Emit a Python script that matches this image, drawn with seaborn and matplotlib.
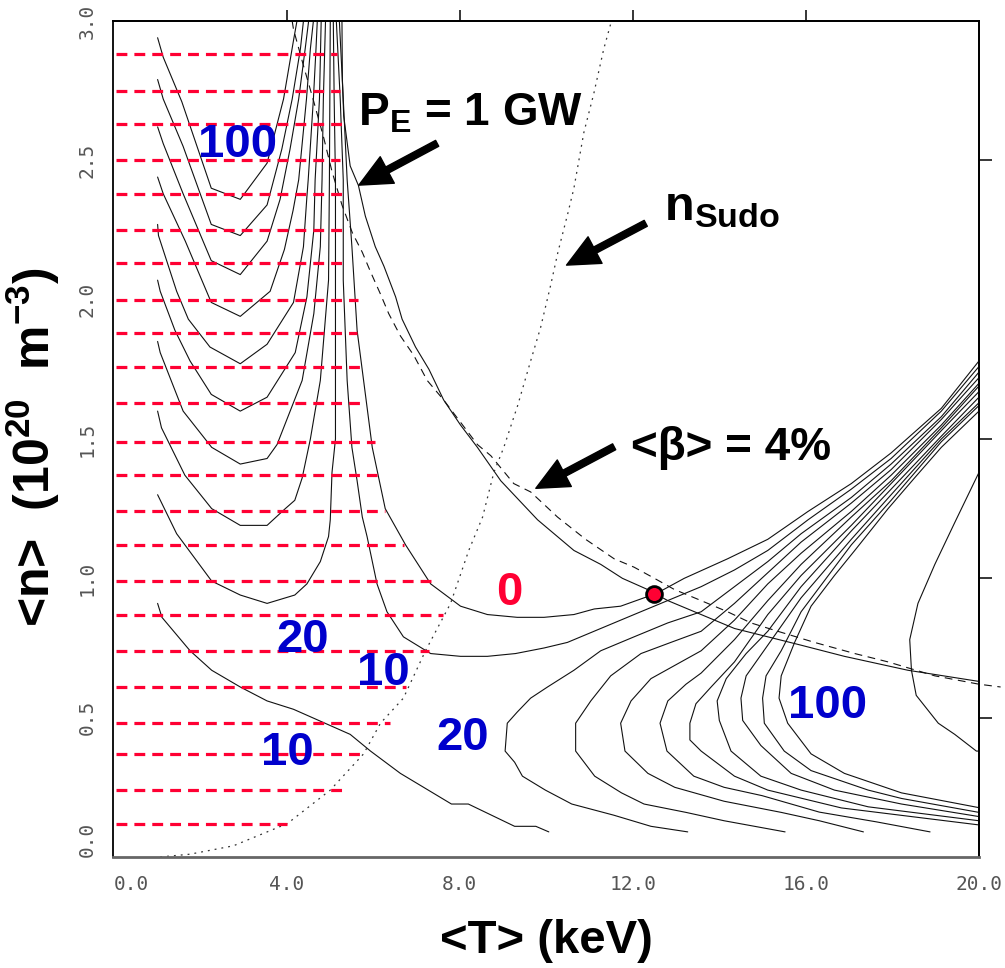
import numpy as np
import pandas as pd
import matplotlib
matplotlib.use("Agg")
import matplotlib.pyplot as plt
import seaborn as sns
from matplotlib.patches import FancyArrowPatch

# ---------------- data (T in keV, n in 1e20 m^-3) ----------------
# left family of contours (U shaped)
U1_T = [1.02, 1.15, 1.58, 2.26, 2.93, 3.55, 3.93, 4.16, 4.24]
U1_n = [2.94, 2.87, 2.71, 2.40, 2.36, 2.49, 2.72, 2.93, 3.00]
U2_T = [1.02, 1.15, 1.61, 2.26, 2.93, 3.55, 3.89, 4.13, 4.32, 4.39]
U2_n = [2.79, 2.72, 2.55, 2.27, 2.23, 2.34, 2.54, 2.72, 2.90, 3.00]
U3_T = [1.02, 1.15, 1.61, 2.26, 2.93, 3.55, 3.85, 4.08, 4.28, 4.43, 4.51]
U3_n = [2.62, 2.56, 2.38, 2.14, 2.09, 2.21, 2.36, 2.54, 2.72, 2.90, 3.00]
U4_T = [1.02, 1.15, 1.66, 2.26, 2.93, 3.62, 3.95, 4.15, 4.28, 4.46, 4.55, 4.62]
U4_n = [2.44, 2.38, 2.21, 1.99, 1.94, 2.03, 2.18, 2.32, 2.43, 2.72, 2.90, 3.00]
U5_T = [1.02, 1.04, 1.46, 1.73, 2.23, 2.93, 3.55, 4.16, 4.39, 4.47, 4.50, 4.62, 4.68, 4.71]
U5_n = [2.27, 2.23, 2.03, 1.93, 1.83, 1.77, 1.84, 1.99, 2.19, 2.37, 2.43, 2.72, 2.90, 3.00]
U6_T = [1.02, 1.08, 1.42, 1.77, 2.26, 2.93, 3.55, 4.20, 4.47, 4.63, 4.66, 4.76, 4.80]
U6_n = [2.07, 2.03, 1.89, 1.78, 1.66, 1.60, 1.65, 1.81, 2.01, 2.25, 2.43, 2.72, 3.00]
U7_T = [1.02, 1.08, 1.61, 2.27, 2.93, 3.55, 3.78, 4.36, 4.63, 4.78, 4.82, 4.85, 4.90]
U7_n = [1.85, 1.81, 1.60, 1.47, 1.41, 1.43, 1.48, 1.71, 1.95, 2.19, 2.43, 2.72, 3.00]
U8_T = [1.02, 1.11, 1.65, 2.27, 2.93, 3.55, 3.97, 4.19, 4.36, 4.55, 4.78, 4.97, 4.99, 5.00, 5.01]
U8_n = [1.60, 1.54, 1.37, 1.25, 1.19, 1.19, 1.25, 1.28, 1.36, 1.50, 1.71, 2.07, 2.43, 2.72, 3.00]
U9_T = [1.02, 1.46, 2.27, 2.93, 3.55, 4.19, 4.47, 4.78, 4.97, 5.01, 5.05, 5.13, 5.13, 5.13, 5.10, 5.08]
U9_n = [1.30, 1.16, 0.99, 0.94, 0.91, 0.94, 0.98, 1.06, 1.15, 1.21, 1.38, 1.50, 1.71, 2.43, 2.72, 3.00]
L10_T = [1.02, 1.12, 1.77, 2.27, 2.93, 3.55, 4.16, 5.47, 5.94, 6.63, 7.81, 8.20, 9.27, 9.76, 10.06]
L10_n = [0.91, 0.86, 0.74, 0.67, 0.61, 0.56, 0.53, 0.44, 0.38, 0.30, 0.19, 0.19, 0.11, 0.11, 0.09]

# "0" contour and the one just below it
Z0_T = [5.22, 5.31, 5.40, 5.51, 5.63, 5.78, 5.98, 6.28, 6.75, 7.33, 8.02, 8.64, 9.33, 9.95,
        10.64, 11.11, 11.72, 12.26, 12.48, 13.19, 14.19, 15.12, 16.05, 17.05, 17.97, 19.13, 20.0]
Z0_n = [3.00, 2.72, 2.43, 2.19, 1.89, 1.71, 1.47, 1.25, 1.12, 0.98, 0.90, 0.87, 0.86, 0.86,
        0.87, 0.89, 0.90, 0.93, 0.94, 1.00, 1.07, 1.14, 1.24, 1.34, 1.45, 1.61, 1.78]
B0_T = [5.15, 5.24, 5.31, 5.31, 5.40, 5.51, 5.63, 5.75, 5.86, 6.09, 6.32, 6.70, 7.33, 8.02, 8.64,
        9.29, 9.95, 10.49, 11.26, 12.03, 12.65, 13.58, 14.35, 15.12, 16.05, 17.05, 17.97, 19.13, 20.0]
B0_n = [3.00, 2.72, 2.43, 2.07, 1.71, 1.47, 1.35, 1.22, 1.15, 0.98, 0.88, 0.79, 0.73, 0.72, 0.72,
        0.73, 0.75, 0.77, 0.82, 0.87, 0.91, 0.97, 1.03, 1.10, 1.21, 1.32, 1.43, 1.60, 1.76]

# right family (C shaped)
C1_T = [13.27, 12.42, 11.56, 10.59, 9.98, 9.45, 9.27, 9.05, 9.10, 9.33, 9.64, 10.03, 10.64, 11.26,
        12.03, 12.81, 13.58, 14.35, 15.12, 15.89, 17.05, 17.97, 19.13, 20.0]
C1_n = [0.09, 0.11, 0.15, 0.19, 0.24, 0.29, 0.34, 0.38, 0.48, 0.52, 0.57, 0.61, 0.67, 0.74,
        0.79, 0.84, 0.88, 0.97, 1.06, 1.16, 1.29, 1.41, 1.58, 1.74]
C2_T = [15.52, 14.11, 13.23, 12.26, 11.74, 11.12, 10.68, 10.68, 11.03, 11.49, 12.19, 12.88, 13.58,
        14.35, 15.12, 15.89, 17.05, 17.97, 19.13, 20.0]
C2_n = [0.09, 0.13, 0.16, 0.19, 0.23, 0.29, 0.38, 0.48, 0.56, 0.65, 0.73, 0.77, 0.81,
        0.91, 1.02, 1.13, 1.27, 1.39, 1.57, 1.72]
C3_T = [17.33, 16.31, 15.43, 14.11, 12.97, 12.35, 11.82, 11.72, 11.96, 12.42, 13.00, 13.58, 14.35,
        15.12, 15.89, 17.05, 17.97, 19.13, 20.0]
C3_n = [0.09, 0.13, 0.16, 0.20, 0.25, 0.30, 0.38, 0.48, 0.56, 0.64, 0.69, 0.74, 0.85,
        0.98, 1.09, 1.24, 1.37, 1.55, 1.70]
C4_T = [18.87, 17.63, 16.31, 14.99, 14.11, 13.41, 12.79, 12.63, 12.81, 13.23, 13.58, 14.35, 15.12,
        15.89, 17.05, 17.97, 19.13, 20.0]
C4_n = [0.09, 0.126, 0.161, 0.22, 0.25, 0.29, 0.38, 0.48, 0.56, 0.62, 0.66, 0.78, 0.92,
        1.05, 1.22, 1.35, 1.54, 1.69]
C5_T = [20.0, 16.82, 15.12, 14.35, 13.58, 13.32, 13.32, 13.46, 13.81, 14.35, 15.12, 15.89, 17.05,
        17.97, 19.13, 20.0]
C5_n = [0.115, 0.176, 0.24, 0.29, 0.38, 0.42, 0.48, 0.55, 0.61, 0.70, 0.87, 1.01, 1.19,
        1.34, 1.53, 1.67]
C6_T = [20.0, 17.44, 15.89, 14.96, 14.27, 14.00, 13.95, 14.16, 14.62, 15.12, 15.89, 17.05, 17.97,
        19.13, 20.0]
C6_n = [0.13, 0.18, 0.24, 0.29, 0.38, 0.49, 0.56, 0.64, 0.73, 0.81, 0.97, 1.17, 1.32,
        1.51, 1.65]
C7_T = [20.0, 18.21, 16.66, 15.66, 14.96, 14.54, 14.50, 14.62, 15.12, 15.89, 17.05, 17.97, 19.13, 20.0]
C7_n = [0.145, 0.19, 0.24, 0.30, 0.40, 0.49, 0.57, 0.65, 0.76, 0.93, 1.14, 1.30, 1.50, 1.63]
C8_T = [20.0, 18.21, 17.44, 16.12, 15.50, 15.04, 15.00, 15.08, 15.43, 15.89, 17.05, 17.97, 19.13, 20.0]
C8_n = [0.16, 0.21, 0.24, 0.31, 0.38, 0.48, 0.57, 0.65, 0.74, 0.88, 1.12, 1.28, 1.49, 1.62]
C9_T = [20.0, 18.21, 16.89, 16.12, 15.58, 15.38, 15.43, 15.74, 16.12, 16.66, 17.13, 17.90, 18.51,
        19.13, 20.0]
C9_n = [0.177, 0.23, 0.30, 0.37, 0.48, 0.57, 0.65, 0.77, 0.90, 1.01, 1.10, 1.25, 1.36,
        1.47, 1.60]
C10_T = [20.0, 19.44, 18.98, 18.59, 18.40, 18.44, 18.55, 19.06, 19.44, 19.94, 20.0]
C10_n = [1.38, 1.20, 1.05, 0.91, 0.78, 0.67, 0.58, 0.48, 0.44, 0.38, 0.38]

# P_E = 1 GW line, <beta> = 4 % limit, Sudo density limit
PE_T = [5.28, 5.29, 5.32, 5.47, 5.66, 5.82, 6.05, 6.25, 6.52, 6.67, 6.98, 7.29, 7.63, 8.02, 8.41,
        8.95, 9.80, 10.64, 11.26, 11.76, 12.34, 12.81, 13.58, 14.35, 15.12, 15.89, 16.89, 18.36, 20.0]
PE_n = [3.00, 2.79, 2.66, 2.48, 2.41, 2.30, 2.19, 2.12, 2.01, 1.93, 1.83, 1.75, 1.64, 1.55, 1.47,
        1.35, 1.21, 1.10, 1.05, 1.00, 0.96, 0.92, 0.87, 0.82, 0.79, 0.76, 0.72, 0.67, 0.63]
BETA_T = [4.13, 4.16, 4.39, 4.63, 4.86, 5.05, 5.28, 5.52, 5.75, 5.94, 6.17, 6.36, 6.63, 6.94, 7.25,
          7.63, 8.02, 8.41, 8.72, 9.25, 9.64, 10.26, 10.91, 11.57, 12.03, 12.50, 12.96, 13.58, 14.19,
          14.73, 15.35, 16.20, 17.13, 17.90, 18.98, 20.0, 20.5]
BETA_n = [3.00, 2.97, 2.84, 2.71, 2.58, 2.46, 2.34, 2.24, 2.17, 2.10, 2.02, 1.95, 1.87, 1.80, 1.71,
          1.64, 1.56, 1.48, 1.44, 1.34, 1.31, 1.22, 1.14, 1.07, 1.04, 1.00, 0.96, 0.92, 0.88,
          0.84, 0.81, 0.77, 0.73, 0.70, 0.65, 0.62, 0.61]
SUDO_T = [1.08, 1.77, 2.77, 4.02, 5.01, 5.78, 6.17, 6.70, 7.21, 7.79, 8.21, 8.53, 8.79, 9.02, 9.34,
          9.64, 9.87, 10.10, 10.27, 10.50, 10.64, 10.87, 11.10, 11.33, 11.49]
SUDO_n = [0.00, 0.01, 0.04, 0.12, 0.24, 0.37, 0.48, 0.57, 0.74, 0.91, 1.10, 1.22, 1.38, 1.47, 1.62,
          1.78, 1.90, 2.05, 2.17, 2.31, 2.40, 2.60, 2.74, 2.90, 2.99]

# red dashed horizontal lines
DASH_n = [2.88, 2.75, 2.63, 2.50, 2.38, 2.25, 2.13, 2.00, 1.88, 1.76, 1.63, 1.49, 1.37, 1.24,
          1.12, 0.99, 0.87, 0.74, 0.61, 0.48, 0.37, 0.24, 0.12]
DASH_END = [5.17, 5.24, 5.28, 5.24, 5.28, 5.28, 5.28, 5.65, 5.63, 5.69, 5.71, 6.05, 6.10, 6.28,
            6.72, 7.33, 7.62, 7.29, 6.75, 6.40, 5.75, 5.28, 4.01]

# operating point
DOT_T = [12.48]
DOT_n = [0.943]

# contour labels
LABEL_TEXT = ["100", "20", "10", "10", "20", "100", "0"]
LABEL_T = [2.87, 4.375, 6.24, 4.03, 8.08, 16.49, 9.15]
LABEL_n = [2.512, 0.736, 0.617, 0.330, 0.384, 0.499, 0.904]
LABEL_COLOR = ["#0000cc"] * 6 + ["#ff0033"]

X_TICKS = [0, 4, 8, 12, 16, 20]
X_TICKLABELS = ["0.0", "4.0", "8.0", "12.0", "16.0", "20.0"]
Y_TICKS = [0.0, 0.5, 1.0, 1.5, 2.0, 2.5, 3.0]
Y_TICKLABELS = ["0.0", "0.5", "1.0", "1.5", "2.0", "2.5", "3.0"]

# ---------------- build long-form table ----------------
contours = {
    "U1": (U1_T, U1_n), "U2": (U2_T, U2_n), "U3": (U3_T, U3_n), "U4": (U4_T, U4_n),
    "U5": (U5_T, U5_n), "U6": (U6_T, U6_n), "U7": (U7_T, U7_n), "U8": (U8_T, U8_n),
    "U9": (U9_T, U9_n), "L10": (L10_T, L10_n), "Z0": (Z0_T, Z0_n), "B0": (B0_T, B0_n),
    "C1": (C1_T, C1_n), "C2": (C2_T, C2_n), "C3": (C3_T, C3_n), "C4": (C4_T, C4_n),
    "C5": (C5_T, C5_n), "C6": (C6_T, C6_n), "C7": (C7_T, C7_n), "C8": (C8_T, C8_n),
    "C9": (C9_T, C9_n), "C10": (C10_T, C10_n), "PE": (PE_T, PE_n),
}
rows = []
for name, (tt, nn) in contours.items():
    for i, (a, b) in enumerate(zip(tt, nn)):
        rows.append((name, i, a, b))
df = pd.DataFrame(rows, columns=["curve", "order", "T", "n"])

# ---------------- style ----------------
sns.set_theme(style="white")
plt.rcParams["font.family"] = ["Liberation Sans", "DejaVu Sans"]
plt.rcParams["mathtext.fontset"] = "custom"
plt.rcParams["mathtext.rm"] = "Liberation Sans:bold"
plt.rcParams["mathtext.it"] = "Liberation Sans:bold"
plt.rcParams["mathtext.bf"] = "Liberation Sans:bold"
plt.rcParams["mathtext.sf"] = "Liberation Sans:bold"
plt.rcParams["axes.edgecolor"] = "black"

fig = plt.figure(figsize=(10.05, 9.68), dpi=100)
ax = fig.add_axes([0.1129, 0.1147, 0.8612, 0.8636])

# contours
sns.lineplot(data=df, x="T", y="n", units="curve", estimator=None, sort=False,
             color="#111111", linewidth=0.8, ax=ax, legend=False)
# beta limit (dashed)
sns.lineplot(x=BETA_T, y=BETA_n, estimator=None, sort=False, color="#111111",
             linewidth=0.8, linestyle=(0, (7, 5)), ax=ax, legend=False)
ax.lines[-1].set_clip_on(False)
# Sudo limit (dotted)
sns.lineplot(x=SUDO_T, y=SUDO_n, estimator=None, sort=False, color="#333333",
             linewidth=0.9, linestyle=(0, (1.5, 4)), ax=ax, legend=False)

# red dashed ignition lines
ax.hlines(DASH_n, 0.05, DASH_END, colors="#ff0033", linewidth=2.3,
          linestyles=(0, (3.4, 2.2)), zorder=3)

# operating point
sns.scatterplot(x=DOT_T, y=DOT_n, s=130, color="#ff0033", edgecolor="black",
                linewidth=2.0, zorder=6, ax=ax, legend=False)

# contour labels
for txt, tx, ty, c in zip(LABEL_TEXT, LABEL_T, LABEL_n, LABEL_COLOR):
    ax.text(tx, ty, txt, color=c, fontsize=34, fontweight="bold",
            ha="center", va="baseline", zorder=7)

# annotations
ax.text(5.66, 2.626, r"P$_{E}$ = 1 GW", fontsize=33, fontweight="bold",
        ha="left", va="baseline", color="black")
ax.text(12.72, 2.286, r"n$_{Sudo}$", fontsize=35, fontweight="bold",
        ha="left", va="baseline", color="black")
ax.text(11.96, 1.424, "<β> = 4%", fontsize=33, fontweight="bold",
        ha="left", va="baseline", color="black")

arrows = [((7.48, 2.561), (5.67, 2.411)),
          ((12.30, 2.274), (10.47, 2.124)),
          ((11.57, 1.472), (9.76, 1.323))]
for tail, tip in arrows:
    ax.add_patch(FancyArrowPatch(tail, tip,
                                 arrowstyle="simple,head_length=1.45,head_width=1.35,tail_width=0.3",
                                 mutation_scale=16, color="black", shrinkA=0, shrinkB=0,
                                 zorder=8))

# axes
ax.set_xlim(0, 20)
ax.set_ylim(0, 3)
ax.set_xticks(X_TICKS)
ax.set_xticklabels(X_TICKLABELS, fontfamily="DejaVu Sans Mono", fontsize=14)
ax.set_yticks(Y_TICKS)
ax.set_yticklabels(Y_TICKLABELS, fontfamily="DejaVu Sans Mono", fontsize=14,
                   rotation=90, va="center")
ax.get_xticklabels()[0].set_horizontalalignment("left")
ax.get_yticklabels()[0].set_verticalalignment("bottom")
ax.tick_params(axis="x", direction="in", length=9, width=1.3, pad=13, top=False, colors="black",
               labelcolor="#555555")
ax.tick_params(axis="y", direction="in", length=8, width=1.3, pad=12, right=False, colors="black",
               labelcolor="#555555")
for s in ax.spines.values():
    s.set_color("black")
    s.set_linewidth(1.3)
ax.spines["bottom"].set_color("#666666")
ax.spines["bottom"].set_linewidth(2.0)

secx = ax.secondary_xaxis("top")
secx.set_xticks([4, 8, 12, 16])
secx.tick_params(direction="out", length=8, width=1.3, labeltop=False)
secx.spines["top"].set_linewidth(1.3)
secy = ax.secondary_yaxis("right")
secy.set_yticks([0.5, 1.0, 1.5, 2.5])
secy.tick_params(direction="out", length=9, width=1.3, labelright=False)
secy.spines["right"].set_linewidth(1.3)

ax.set_xlabel("<T> (keV)", fontsize=34, fontweight="bold", color="black")
ax.xaxis.set_label_coords(0.5, -0.074)
ax.set_ylabel(r"<n>  (10$^{20}$  m$^{-3}$)", fontsize=36, fontweight="bold", color="black")
ax.yaxis.set_label_coords(-0.059, 0.49)

fig.savefig("out.png", dpi=100)
